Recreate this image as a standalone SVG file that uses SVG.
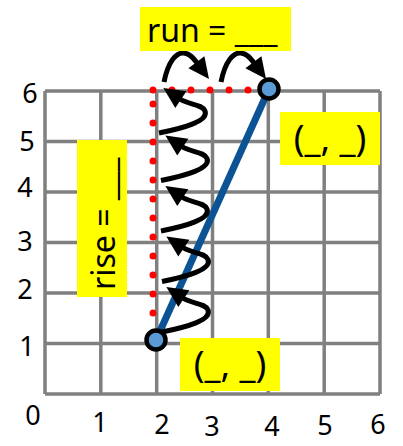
<svg xmlns="http://www.w3.org/2000/svg" xmlns:xlink="http://www.w3.org/1999/xlink" width="403" height="446" viewBox="0 0 403 446">
<style>
.grid{stroke:#808080;stroke-width:3.5;fill:none}
.lbl{font-family:"Noto Sans","DejaVu Sans",sans-serif;font-size:27px;fill:#000;text-anchor:middle}
.box{fill:#ffff00}
.btxt{font-family:"Noto Sans","DejaVu Sans",sans-serif;font-size:32px;fill:#000}
.ctxt{font-family:"Noto Sans","DejaVu Sans",sans-serif;font-size:36px;fill:#000;text-anchor:middle}
.arr{fill:none;stroke:#000;stroke-width:5;stroke-linecap:butt;marker-end:url(#ah)}
.dots{fill:none;stroke:#ff0000;stroke-width:7;stroke-linecap:round;stroke-dasharray:0 19}
.pt{fill:#5b9bd5;stroke:#000;stroke-width:4.5}
</style>
<defs>
<marker id="ah" markerUnits="userSpaceOnUse" viewBox="0 0 22 20" markerWidth="22" markerHeight="20" refX="1" refY="10" orient="auto" overflow="visible">
<path d="M0,0 L21,10 L0,20 Z" fill="#000"/>
</marker>
<path id="rise" class="arr" d="M0,0 C25,-5 50,-12 46,-22 C43,-29 30,-28 21,-34"/>
</defs>
<g id="grid">
<path class="grid" d="M45,91H380M45,141.5H380M45,192H380M45,242.5H380M45,293H380M45,343.5H380M45,394H380M45,91V394M100.8,91V394M156.7,91V394M212.5,91V394M268.3,91V394M324.2,91V394M380,91V394"/>
</g>
<g id="axis-labels">
<text class="lbl" x="30" y="103">6</text>
<text class="lbl" x="27" y="151">5</text>
<text class="lbl" x="25" y="197">4</text>
<text class="lbl" x="25" y="251">3</text>
<text class="lbl" x="25" y="299">2</text>
<text class="lbl" x="27" y="356">1</text>
<text class="lbl" x="33" y="425">0</text>
<text class="lbl" x="100" y="432">1</text>
<text class="lbl" x="162" y="434">2</text>
<text class="lbl" x="212" y="436">3</text>
<text class="lbl" x="272" y="436">4</text>
<text class="lbl" x="325" y="435">5</text>
<text class="lbl" x="378" y="434">6</text>
</g>
<g id="red-path">
<path class="dots" d="M153,313V90M153,90H250"/>
</g>
<g id="line">
<line x1="156" y1="340" x2="269" y2="89" stroke="#0b5394" stroke-width="7"/>
</g>
<g id="connectors">
<use xlink:href="#rise" transform="translate(162,332)"/>
<use xlink:href="#rise" transform="translate(162,281.5)"/>
<use xlink:href="#rise" transform="translate(161,231)"/>
<use xlink:href="#rise" transform="translate(161,180.5)"/>
<use xlink:href="#rise" transform="translate(159,133)"/>
<path class="arr" d="M164,82 C168,62 176,52 184,53 C191,54 194,59 197,63"/>
<path class="arr" d="M221,82 C225,62 233,52 241,53 C248,54 251,59 254,63"/>
</g>
<g id="point-a"><circle class="pt" cx="156" cy="340" r="9.5"/></g>
<g id="point-b"><circle class="pt" cx="269" cy="89" r="9.5"/></g>
<g id="run-label">
<rect class="box" x="140" y="7" width="151" height="44"/>
<text class="btxt" x="147" y="42">run = ___</text>
</g>
<g id="rise-label">
<rect class="box" x="77" y="140" width="50" height="157"/>
<text class="btxt" transform="translate(115,290) rotate(-90)">rise = ___</text>
</g>
<g id="coord-b">
<rect class="box" x="280" y="112" width="100" height="53"/>
<text class="ctxt" x="330" y="151">(_, _)</text>
</g>
<g id="coord-a">
<rect class="box" x="180" y="338" width="100" height="53"/>
<text class="ctxt" x="230" y="377">(_, _)</text>
</g>
</svg>
